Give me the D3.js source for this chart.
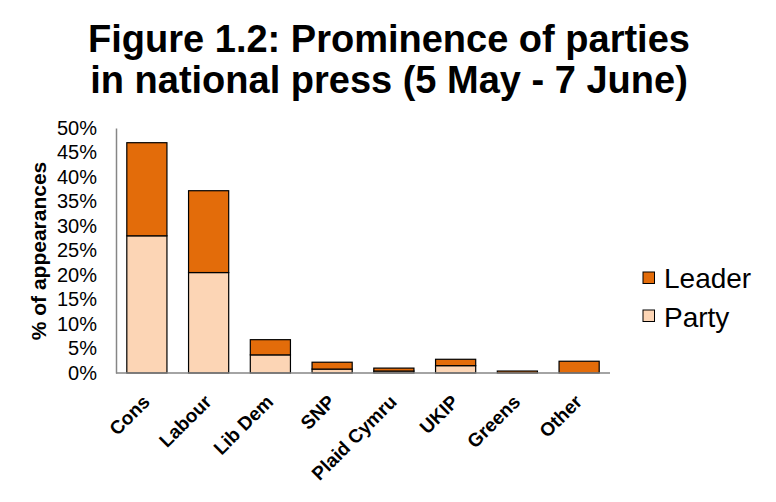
<!DOCTYPE html>
<html><head><meta charset="utf-8">
<script src="https://cdn.jsdelivr.net/npm/d3@7"></script>
<style>body{margin:0;background:#fff;}svg{display:block;font-family:"Liberation Sans",Arial,sans-serif;}</style>
</head><body>
<svg id="c" width="776" height="502"></svg>
<script>
const categories = ["Cons","Labour","Lib Dem","SNP","Plaid Cymru","UKIP","Greens","Other"];
const partyValues = [28, 20.5, 3.7, 0.8, 0.4, 1.5, 0, 0];
const leaderValues = [19, 16.7, 3.1, 1.4, 0.6, 1.3, 0.4, 2.4];
const yTicks = [0,5,10,15,20,25,30,35,40,45,50];
const seriesNames = ["Party","Leader"];
const colors = {Party:"#FCD5B5", Leader:"#E36C0A"};

const svg = d3.select("#c");
const m = {left:116, right:610, top:128, bottom:373};
const x = d3.scaleBand().domain(categories).range([m.left, m.right]).paddingInner(0.35).paddingOuter(0.175);
const y = d3.scaleLinear().domain([0,50]).range([m.bottom, m.top]);

const rows = categories.map((c,i)=>({cat:c, Party:partyValues[i], Leader:leaderValues[i]}));
const stack = d3.stack().keys(seriesNames)(rows);

// title
const title = svg.append("text").attr("text-anchor","middle").attr("font-weight","bold").attr("font-size",38).attr("fill","#000");
title.append("tspan").attr("x",389).attr("y",52).text("Figure 1.2: Prominence of parties");
title.append("tspan").attr("x",389).attr("y",92.5).text("in national press (5 May - 7 June)");

// bars
svg.append("g").selectAll("g").data(stack).join("g")
  .attr("fill", d=>colors[d.key])
  .selectAll("rect").data(d=>d.filter(s=>s[1]-s[0]>0)).join("rect")
  .attr("x", d=>x(d.data.cat))
  .attr("width", x.bandwidth())
  .attr("y", d=>y(d[1]))
  .attr("height", d=>y(d[0])-y(d[1]))
  .attr("stroke","#000").attr("stroke-width",1.2);

// axes
const yAxis = svg.append("g").attr("transform",`translate(${m.left},0)`)
  .call(d3.axisLeft(y).tickValues(yTicks).tickFormat(d=>d+"%").tickSize(0).tickPadding(19));
yAxis.select(".domain").attr("stroke","#868686").attr("stroke-width",1.5);
yAxis.selectAll("text").attr("font-size",20).attr("font-family","'Liberation Sans',Arial,sans-serif").attr("fill","#000");

const xAxis = svg.append("g").attr("transform",`translate(0,${m.bottom})`)
  .call(d3.axisBottom(x).tickSize(0).tickFormat(""));
xAxis.select(".domain").attr("stroke","#868686").attr("stroke-width",1.5).attr("d",`M${m.left},0H${m.right}`);

svg.append("g").selectAll("text").data(categories).join("text")
  .attr("transform", d=>`translate(${x(d)+x.bandwidth()/2+4},${m.bottom+30}) rotate(-45)`)
  .attr("text-anchor","end")
  .attr("font-size",19).attr("font-weight","bold").text(d=>d);

// y title
svg.append("text").attr("transform","translate(46,251) rotate(-90)")
  .attr("text-anchor","middle").attr("font-size",21).attr("font-weight","bold").text("% of appearances");

// legend
const leg = svg.append("g");
[["Leader",272,288],["Party",310,327]].forEach(([k,yy,ty])=>{
  leg.append("rect").attr("x",643).attr("y",yy).attr("width",11.5).attr("height",11.5)
    .attr("fill",colors[k]).attr("stroke","#000").attr("stroke-width",1);
  leg.append("text").attr("x",664).attr("y",ty).attr("font-size",28).text(k);
});
</script>
</body></html>
